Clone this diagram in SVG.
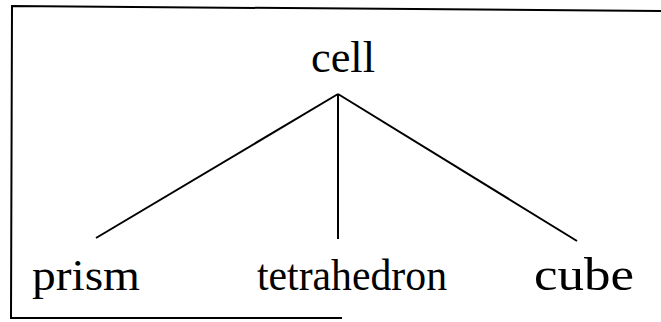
<svg xmlns="http://www.w3.org/2000/svg" width="661" height="322" viewBox="0 0 661 322">
<style>
.t{font-family:"Liberation Serif","Times New Roman",serif;font-size:45px;fill:#000;text-anchor:middle}
.c{stroke:#000;stroke-width:2;fill:none}
.f{stroke:#000;stroke-width:2;fill:none}
</style>
<rect width="661" height="322" fill="#fff"/>
<g id="frame">
<path class="f" d="M661,11 L12,6 L11,318 L342,318"/>
</g>
<g id="connectors">
<line class="c" x1="338" y1="94" x2="96" y2="238"/>
<line class="c" x1="338" y1="94" x2="338" y2="239"/>
<line class="c" x1="338" y1="94" x2="577" y2="241"/>
</g>
<g id="node-cell"><text class="t" x="343" y="72" textLength="64" lengthAdjust="spacingAndGlyphs">cell</text></g>
<g id="node-prism"><text class="t" x="86" y="290" textLength="108" lengthAdjust="spacingAndGlyphs">prism</text></g>
<g id="node-tetrahedron"><text class="t" x="352" y="290" textLength="190" lengthAdjust="spacingAndGlyphs">tetrahedron</text></g>
<g id="node-cube"><text class="t" x="584" y="290" style="font-size:47px" textLength="100" lengthAdjust="spacingAndGlyphs">cube</text></g>
</svg>
